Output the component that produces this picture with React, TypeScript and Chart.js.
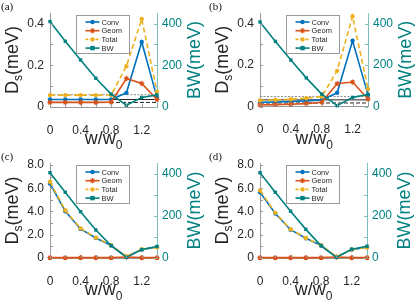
import React, { useEffect, useRef } from "react";
import { Chart, registerables } from "chart.js";
Chart.register(...registerables);

// ---------- data ----------
const wValues = [0, 0.2, 0.4, 0.6, 0.8, 1.0, 1.2, 1.4];

const convA = [0.036, 0.036, 0.036, 0.036, 0.036, 0.068, 0.312, 0.045];
const geomA = [0.022, 0.022, 0.022, 0.022, 0.023, 0.137, 0.113, 0.036];
const totalA = [0.057, 0.057, 0.057, 0.057, 0.058, 0.196, 0.422, 0.074];
const bwA = [410, 315, 226, 138, 62, 8, 46, 58];
const refA = [0.059, 0.036, 0.022];

const convB = [0.02, 0.022, 0.024, 0.027, 0.032, 0.066, 0.317, 0.056];
const geomB = [0.007, 0.009, 0.011, 0.014, 0.02, 0.11, 0.118, 0.036];
const totalB = [0.029, 0.032, 0.035, 0.04, 0.048, 0.172, 0.435, 0.085];
const bwB = [408, 314, 224, 138, 60, 4, 44, 58];
const refB = [0.048, 0.032, 0.017];

const convC = [6.4, 4.02, 2.5, 1.72, 1.07, 0.1, 0.72, 0.94];
const geomC = [0.03, 0.03, 0.03, 0.03, 0.03, 0.08, 0.03, 0.03];
const totalC = [6.55, 4.1, 2.55, 1.75, 1.1, 0.15, 0.75, 0.92];
const bwC = [405, 312, 220, 133, 59, 3, 40, 55];

const convD = [5.65, 3.82, 2.43, 1.7, 1.07, 0.08, 0.72, 0.92];
const geomD = [0.03, 0.03, 0.03, 0.03, 0.03, 0.08, 0.03, 0.03];
const totalD = [5.8, 3.88, 2.47, 1.72, 1.09, 0.12, 0.73, 0.9];
const bwD = [405, 312, 222, 136, 58, 3, 42, 56];

const seriesNames = ["Conv", "Geom", "Total", "BW"];
const panelLabels = ["(a)", "(b)", "(c)", "(d)"];

const xTickValues = [0, 0.2, 0.4, 0.6, 0.8, 1.0, 1.2, 1.4];
const xTickLabels = ["0", "", "0.4", "", "0.8", "", "1.2", ""];
const smallTickValues = [0, 0.1, 0.2, 0.3, 0.4];
const smallTickLabels = ["0", "", "0.2", "", "0.4"];
const bigTickValues = [0, 1, 2, 3, 4, 5, 6, 7, 8];
const bigTickLabels = ["0", "", "2.0", "", "4.0", "", "6.0", "", "8.0"];
const bwTickValues = [0, 100, 200, 300, 400];
const bwTickLabels = ["0", "", "200", "", "400"];

// ---------- style ----------
const FONT = "'Liberation Sans', Arial, Helvetica, sans-serif";
const BLUE = "#0072BD";
const ORANGE = "#D95319";
const YELLOW = "#EDB120";
const TEAL = "#008080";
const INK = "#262626";

type Area = { left: number; right: number; top: number; bottom: number };
type PanelProps = {
  label: string;
  x: number;
  y: number;
  w: number;
  h: number;
  area: Area;
  conv: number[];
  geom: number[];
  total: number[];
  bw: number[];
  refs?: number[];
  yMax: number;
  yTickValues: number[];
  yTickLabels: string[];
};

function labelFor(values: number[], labels: string[], v: number) {
  const i = values.findIndex((t) => Math.abs(t - v) < 1e-9);
  return i >= 0 ? labels[i] : "";
}

function drawMarker(ctx: CanvasRenderingContext2D, style: string, x: number, y: number, color: string) {
  ctx.save();
  ctx.setLineDash([]);
  ctx.fillStyle = color;
  ctx.strokeStyle = color;
  if (style === "circle") {
    ctx.beginPath();
    ctx.arc(x, y, 2.2, 0, Math.PI * 2);
    ctx.fill();
  } else if (style === "rect") {
    ctx.fillRect(x - 2.2, y - 2.2, 4.4, 4.4);
  } else {
    const r = 2.6;
    ctx.lineWidth = 1.1;
    ctx.beginPath();
    for (let k = 0; k < 4; k++) {
      const a = (k * Math.PI) / 4;
      ctx.moveTo(x - r * Math.cos(a), y - r * Math.sin(a));
      ctx.lineTo(x + r * Math.cos(a), y + r * Math.sin(a));
    }
    ctx.stroke();
  }
  ctx.restore();
}

function Panel(p: PanelProps) {
  const ref = useRef<HTMLCanvasElement>(null);
  useEffect(() => {
    const canvas = ref.current!;
    const pts = (arr: number[]) => wValues.map((x, i) => ({ x, y: arr[i] }));
    const series = [
      { name: seriesNames[0], data: p.conv, color: BLUE, style: "circle", dash: [] as number[], axis: "y", order: 4 },
      { name: seriesNames[1], data: p.geom, color: ORANGE, style: "star", dash: [] as number[], axis: "y", order: 3 },
      { name: seriesNames[2], data: p.total, color: YELLOW, style: "circle", dash: [5, 3], axis: "y", order: 2 },
      { name: seriesNames[3], data: p.bw, color: TEAL, style: "rect", dash: [] as number[], axis: "y2", order: 1 },
    ];
    const datasets: any[] = series.map((s) => ({
      label: s.name,
      data: pts(s.data),
      yAxisID: s.axis,
      borderColor: s.color,
      backgroundColor: s.color,
      borderWidth: 1.6,
      borderDash: s.dash,
      pointStyle: s.style,
      pointRadius: s.style === "star" ? 2.6 : s.style === "rect" ? 2.4 : 2.2,
      pointBorderWidth: s.style === "star" ? 1.1 : 0,
      pointBorderColor: s.color,
      pointBackgroundColor: s.color,
      tension: 0,
      clip: false,
      order: s.order,
    }));
    if (p.refs) {
      const refStyles = [
        { color: "#8a8a8a", dash: [2, 1.5] },
        { color: "#222", dash: [] as number[] },
        { color: "#222", dash: [4, 2] },
      ];
      p.refs.forEach((v, i) => {
        datasets.push({
          label: "ref" + i,
          data: [
            { x: wValues[0], y: v },
            { x: wValues[wValues.length - 1], y: v },
          ],
          yAxisID: "y",
          borderColor: refStyles[i].color,
          borderDash: refStyles[i].dash,
          borderWidth: 1,
          pointRadius: 0,
          clip: false,
          order: 5,
        });
      });
    }

    const overlay = {
      id: "overlay",
      afterDraw(chart: any) {
        const ctx: CanvasRenderingContext2D = chart.ctx;
        const ca = chart.chartArea;
        const xs = chart.scales.x;
        const ys = chart.scales.y;
        const ys2 = chart.scales.y2;
        ctx.save();
        // inward tick marks
        ctx.lineWidth = 1;
        ctx.strokeStyle = "#9a9a9a";
        ctx.beginPath();
        xTickValues.forEach((v) => {
          const px = Math.round(xs.getPixelForValue(v)) + 0.5;
          ctx.moveTo(px, ca.bottom);
          ctx.lineTo(px, ca.bottom - 3);
        });
        p.yTickValues.forEach((v) => {
          const py = Math.round(ys.getPixelForValue(v)) + 0.5;
          ctx.moveTo(ca.left, py);
          ctx.lineTo(ca.left + 3, py);
        });
        ctx.stroke();
        ctx.strokeStyle = "#7fbfbf";
        ctx.beginPath();
        bwTickValues.forEach((v) => {
          const py = Math.round(ys2.getPixelForValue(v)) + 0.5;
          ctx.moveTo(ca.right, py);
          ctx.lineTo(ca.right - 3, py);
        });
        ctx.stroke();

        // left title D_s(meV)
        const big = 18;
        const sub = 12;
        const cy = (ca.top + ca.bottom) / 2;
        ctx.fillStyle = INK;
        ctx.textBaseline = "alphabetic";
        ctx.textAlign = "left";
        {
          ctx.save();
          ctx.translate(ca.left - 32, cy);
          ctx.rotate(-Math.PI / 2);
          ctx.font = `${big}px ${FONT}`;
          const wD = ctx.measureText("D").width;
          const wR = ctx.measureText("(meV)").width;
          ctx.font = `${sub}px ${FONT}`;
          const wS = ctx.measureText("s").width;
          const total = wD + wS + wR;
          let x0 = -total / 2;
          ctx.font = `${big}px ${FONT}`;
          ctx.fillText("D", x0, 0);
          ctx.font = `${sub}px ${FONT}`;
          ctx.fillText("s", x0 + wD, 4);
          ctx.font = `${big}px ${FONT}`;
          ctx.fillText("(meV)", x0 + wD + wS, 0);
          ctx.restore();
        }
        // right title BW(meV)
        {
          ctx.save();
          ctx.fillStyle = TEAL;
          ctx.translate(ca.right + 43, cy);
          ctx.rotate(-Math.PI / 2);
          ctx.font = `${big}px ${FONT}`;
          ctx.textAlign = "center";
          ctx.fillText("BW(meV)", 0, 0);
          ctx.restore();
        }
        // x title w/w_0
        {
          const cx = (ca.left + ca.right) / 2;
          const by = ca.bottom + 37;
          ctx.font = `${big}px ${FONT}`;
          const wW = ctx.measureText("w/w").width;
          ctx.font = `${sub}px ${FONT}`;
          const w0 = ctx.measureText("0").width;
          const x0 = cx - (wW + w0) / 2;
          ctx.fillStyle = INK;
          ctx.font = `${big}px ${FONT}`;
          ctx.fillText("w/w", x0, by);
          ctx.font = `${sub}px ${FONT}`;
          ctx.fillText("0", x0 + wW, by + 5);
        }
        // legend
        {
          const bx = Math.round(ca.left + 26) + 0.5;
          const byy = Math.round(ca.top + 1.5) + 0.5;
          const bwid = 53;
          const bht = 38;
          ctx.fillStyle = "#fff";
          ctx.fillRect(bx, byy, bwid, bht);
          ctx.strokeStyle = "#9a9a9a";
          ctx.lineWidth = 1;
          ctx.setLineDash([]);
          ctx.strokeRect(bx, byy, bwid, bht);
          series.forEach((s, i) => {
            const ry = byy + 6.5 + i * 8.7;
            ctx.save();
            ctx.strokeStyle = s.color;
            ctx.lineWidth = 1.6;
            ctx.setLineDash(s.dash.length ? [3, 2] : []);
            ctx.beginPath();
            ctx.moveTo(bx + 9, ry);
            ctx.lineTo(bx + 23, ry);
            ctx.stroke();
            ctx.restore();
            drawMarker(ctx, s.style, bx + 16, ry, s.color);
            ctx.fillStyle = INK;
            ctx.font = `7.5px ${FONT}`;
            ctx.textAlign = "left";
            ctx.textBaseline = "middle";
            ctx.fillText(s.name, bx + 25, ry + 0.5);
          });
        }
        ctx.restore();
      },
    };

    const W = p.w;
    const H = p.h;
    const a = p.area;
    const chart = new Chart(canvas, {
      type: "line",
      data: { datasets },
      options: {
        animation: false,
        responsive: false,
        maintainAspectRatio: false,
        parsing: true,
        layout: { padding: { top: a.top, left: 0, right: 0, bottom: 0 } },
        plugins: { legend: { display: false }, title: { display: false }, tooltip: { enabled: false } },
        scales: {
          x: {
            type: "linear",
            position: "bottom",
            min: 0,
            max: 1.4,
            afterBuildTicks: (s: any) => {
              s.ticks = xTickValues.map((v) => ({ value: v }));
            },
            afterFit: (s: any) => {
              s.height = H - a.bottom;
            },
            ticks: {
              autoSkip: false,
              maxRotation: 0,
              padding: 16,
              color: INK,
              font: { family: FONT, size: 12 },
              callback: (v: any) => labelFor(xTickValues, xTickLabels, Number(v)),
            },
            grid: { display: false, drawTicks: false },
            border: { display: true, color: "#9a9a9a", width: 1 },
          },
          y: {
            type: "linear",
            position: "left",
            min: 0,
            max: p.yMax,
            afterBuildTicks: (s: any) => {
              s.ticks = p.yTickValues.map((v) => ({ value: v }));
            },
            afterFit: (s: any) => {
              s.width = a.left;
            },
            ticks: {
              autoSkip: false,
              padding: 6,
              color: INK,
              font: { family: FONT, size: 12 },
              callback: (v: any) => labelFor(p.yTickValues, p.yTickLabels, Number(v)),
            },
            grid: { display: false, drawTicks: false },
            border: { display: true, color: "#9a9a9a", width: 1 },
          },
          y2: {
            type: "linear",
            position: "right",
            min: 0,
            max: 450,
            afterBuildTicks: (s: any) => {
              s.ticks = bwTickValues.map((v) => ({ value: v }));
            },
            afterFit: (s: any) => {
              s.width = W - a.right;
            },
            ticks: {
              autoSkip: false,
              padding: 5,
              color: TEAL,
              font: { family: FONT, size: 12 },
              callback: (v: any) => labelFor(bwTickValues, bwTickLabels, Number(v)),
            },
            grid: { display: false, drawTicks: false },
            border: { display: true, color: "#7fbfbf", width: 1 },
          },
        },
      } as any,
      plugins: [overlay],
    });
    return () => chart.destroy();
  }, []);
  return (
    <>
      <canvas
        ref={ref}
        width={p.w}
        height={p.h}
        style={{ position: "absolute", left: p.x, top: p.y, width: p.w, height: p.h }}
      />
      <div
        style={{
          position: "absolute",
          left: p.x + 1,
          top: p.y,
          fontFamily: "'Liberation Serif', 'Times New Roman', serif",
          fontSize: 11,
          lineHeight: "13px",
          color: "#111",
        }}
      >
        {p.label}
      </div>
    </>
  );
}

export default function App() {
  return (
    <div style={{ position: "absolute", left: 0, top: 0, width: 416, height: 305, background: "#fff" }}>
      <Panel
        label={panelLabels[0]}
        x={0}
        y={0}
        w={208}
        h={150}
        area={{ left: 50, right: 157, top: 10.7, bottom: 107 }}
        conv={convA}
        geom={geomA}
        total={totalA}
        bw={bwA}
        refs={refA}
        yMax={0.45}
        yTickValues={smallTickValues}
        yTickLabels={smallTickLabels}
      />
      <Panel
        label={panelLabels[1]}
        x={208}
        y={0}
        w={208}
        h={150}
        area={{ left: 52, right: 160, top: 11, bottom: 106.5 }}
        conv={convB}
        geom={geomB}
        total={totalB}
        bw={bwB}
        refs={refB}
        yMax={0.45}
        yTickValues={smallTickValues}
        yTickLabels={smallTickLabels}
      />
      <Panel
        label={panelLabels[2]}
        x={0}
        y={150}
        w={208}
        h={155}
        area={{ left: 50, right: 157, top: 11.5, bottom: 108 }}
        conv={convC}
        geom={geomC}
        total={totalC}
        bw={bwC}
        yMax={8.15}
        yTickValues={bigTickValues}
        yTickLabels={bigTickLabels}
      />
      <Panel
        label={panelLabels[3]}
        x={208}
        y={150}
        w={208}
        h={155}
        area={{ left: 52, right: 159, top: 12, bottom: 108 }}
        conv={convD}
        geom={geomD}
        total={totalD}
        bw={bwD}
        yMax={8.15}
        yTickValues={bigTickValues}
        yTickLabels={bigTickLabels}
      />
    </div>
  );
}
